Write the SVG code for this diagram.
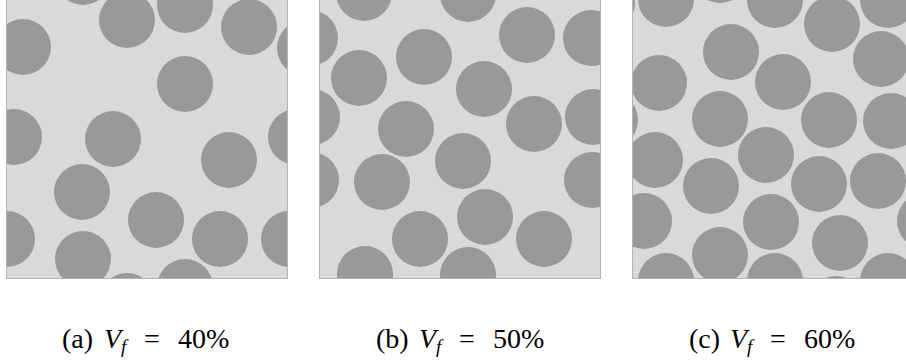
<svg xmlns="http://www.w3.org/2000/svg" width="906" height="363" viewBox="0 0 906 363">
<style>
.bg{fill:#d9d9d9}
.fr{fill:none;stroke:#b4b4b4;stroke-width:1}
.f circle{fill:#999999}
.lab{font-family:"Liberation Serif","DejaVu Serif",serif;font-size:28px;fill:#000}
.it{font-style:italic}
.sub{font-style:italic;font-size:19px}
</style>
<defs>
<clipPath id="ca"><rect x="6.5" y="-3.5" width="281" height="282"/></clipPath>
<clipPath id="cb"><rect x="319.5" y="-3.5" width="281" height="282"/></clipPath>
<clipPath id="cc"><rect x="632.5" y="-3.5" width="281" height="282"/></clipPath>
</defs>
<g id="panel-a">
<rect class="bg" x="6.5" y="-3.5" width="281" height="282"/>
<g class="f" clip-path="url(#ca)">
<circle cx="83" cy="-23" r="28"/><circle cx="127" cy="20" r="28"/><circle cx="23" cy="47" r="28"/>
<circle cx="14" cy="137" r="28"/><circle cx="113" cy="139" r="28"/><circle cx="185" cy="5" r="28"/>
<circle cx="249" cy="27" r="28"/><circle cx="305" cy="48" r="28"/><circle cx="185" cy="84" r="28"/>
<circle cx="296" cy="137" r="28"/><circle cx="229" cy="160" r="28"/><circle cx="82" cy="192" r="28"/>
<circle cx="156" cy="220" r="28"/><circle cx="7" cy="239" r="28"/><circle cx="83" cy="259" r="28"/>
<circle cx="127" cy="301" r="28"/><circle cx="220" cy="239" r="28"/><circle cx="289" cy="239" r="28"/>
<circle cx="185" cy="287" r="28"/>
</g>
<rect class="fr" x="6.5" y="-3.5" width="281" height="282"/>
</g>
<g id="panel-b">
<rect class="bg" x="319.5" y="-3.5" width="281" height="282"/>
<g class="f" clip-path="url(#cb)">
<circle cx="364" cy="-7" r="28"/><circle cx="468" cy="-6" r="28"/><circle cx="310" cy="38" r="28"/>
<circle cx="359" cy="78" r="28"/><circle cx="424" cy="57" r="28"/><circle cx="484" cy="89" r="28"/>
<circle cx="312" cy="117" r="28"/><circle cx="406" cy="129" r="28"/><circle cx="463" cy="161" r="28"/>
<circle cx="527" cy="35" r="28"/><circle cx="591" cy="38" r="28"/><circle cx="534" cy="124" r="28"/>
<circle cx="593" cy="117" r="28"/><circle cx="311" cy="180" r="28"/><circle cx="382" cy="182" r="28"/>
<circle cx="420" cy="239" r="28"/><circle cx="365" cy="274" r="28"/><circle cx="468" cy="275" r="28"/>
<circle cx="485" cy="217" r="28"/><circle cx="544" cy="239" r="28"/><circle cx="592" cy="180" r="28"/>
</g>
<rect class="fr" x="319.5" y="-3.5" width="281" height="282"/>
</g>
<g id="panel-c">
<rect class="bg" x="632.5" y="-3.5" width="281" height="282"/>
<g class="f" clip-path="url(#cc)">
<circle cx="607" cy="3" r="28"/><circle cx="666" cy="-1" r="28"/><circle cx="720" cy="-25" r="28"/>
<circle cx="775" cy="0" r="28"/><circle cx="731" cy="52" r="28"/><circle cx="659" cy="83" r="28"/>
<circle cx="783" cy="82" r="28"/><circle cx="610" cy="120" r="28"/><circle cx="720" cy="119" r="28"/>
<circle cx="655" cy="160" r="28"/><circle cx="766" cy="155" r="28"/><circle cx="832" cy="24" r="28"/>
<circle cx="888" cy="0" r="28"/><circle cx="881" cy="59" r="28"/><circle cx="829" cy="120" r="28"/>
<circle cx="891" cy="121" r="28"/><circle cx="711" cy="186" r="28"/><circle cx="644" cy="221" r="28"/>
<circle cx="720" cy="255" r="28"/><circle cx="666" cy="281" r="28"/><circle cx="607" cy="290" r="28"/>
<circle cx="771" cy="222" r="28"/><circle cx="775" cy="281" r="28"/><circle cx="819" cy="184" r="28"/>
<circle cx="878" cy="181" r="28"/><circle cx="925" cy="221" r="28"/><circle cx="840" cy="243" r="28"/>
<circle cx="888" cy="281" r="28"/><circle cx="836" cy="304" r="28"/>
</g>
<rect class="fr" x="632.5" y="-3.5" width="281" height="282"/>
</g>
<g id="labels">
<text class="lab" y="348"><tspan x="62">(a)</tspan><tspan class="it" x="104">V</tspan><tspan class="sub" x="121" dy="5">f</tspan><tspan x="144" dy="-5">=</tspan><tspan x="178">40%</tspan></text>
<text class="lab" y="348"><tspan x="376">(b)</tspan><tspan class="it" x="419">V</tspan><tspan class="sub" x="436" dy="5">f</tspan><tspan x="459" dy="-5">=</tspan><tspan x="493">50%</tspan></text>
<text class="lab" y="348"><tspan x="689">(c)</tspan><tspan class="it" x="730">V</tspan><tspan class="sub" x="747" dy="5">f</tspan><tspan x="770" dy="-5">=</tspan><tspan x="804">60%</tspan></text>
</g>
</svg>
